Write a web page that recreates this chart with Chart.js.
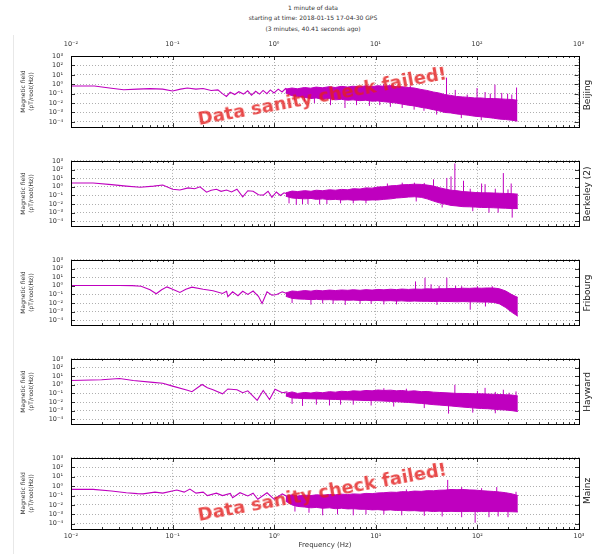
<!DOCTYPE html>
<html>
<head>
<meta charset="utf-8">
<script src="https://cdn.jsdelivr.net/npm/chart.js@4.4.0/dist/chart.umd.min.js"></script>
<style>
  body { margin: 0; background: #fff; width: 592px; height: 554px; position: relative; overflow: hidden; font-family: "DejaVu Sans", sans-serif; }
  canvas { position: absolute; left: 0; }
  .title { position: absolute; left: 163px; width: 300px; top: 3px; text-align: center; font-size: 6px; line-height: 10.3px; color: #333; }
  .station { position: absolute; width: 100px; text-align: center; font-size: 9px; line-height: 10px; color: #222; transform: rotate(-90deg); }
  .warn { position: absolute; white-space: nowrap; font: bold 18px "DejaVu Sans", sans-serif; line-height: 18px; color: rgba(228, 30, 30, 0.8); transform-origin: 0 15px; transform: rotate(-10.5deg); }
  .edge { position: absolute; left: 13px; top: 35px; width: 1px; height: 519px; background: #e8e8e8; }
</style>
</head>
<body>
<div class="edge"></div>
<div class="title">1 minute of data<br>starting at time: 2018-01-15 17-04-30 GPS<br>(3 minutes, 40.41 seconds ago)</div>

<script>
// axis ticks
const xTicks = [0.01, 0.1, 1, 10, 100, 1000];
const xTickLabels = ['10⁻²', '10⁻¹', '10⁰', '10¹', '10²', '10³'];
const yTicks = [1e-4, 1e-3, 1e-2, 1e-1, 1, 10, 100, 1000];
const yTickLabels = ['10⁻⁴', '10⁻³', '10⁻²', '10⁻¹', '10⁰', '10¹', '10²', '10³'];
const minorSteps = [2, 3, 4, 5, 6, 7, 8, 9];

const stations = ['Beijing', 'Berkeley (2)', 'Fribourg', 'Hayward', 'Mainz'];
const failedStations = ['Beijing', 'Mainz'];

// frequencies where the noisy part is read as an upper / lower edge
const bandFreq = [1.3, 1.5, 1.7, 2, 2.3, 2.6, 3, 3.5, 4, 4.6, 5.3, 6, 7, 8, 9.2, 10.5, 12, 14, 16, 18, 21, 24, 28, 32, 37, 42, 48, 55, 63, 72, 83, 95, 110, 125, 145, 165, 190, 220, 250];

// Beijing
const lowFreqBeijing = [0.01, 0.017, 0.025, 0.033, 0.045, 0.06, 0.08, 0.1, 0.12, 0.14, 0.17, 0.2, 0.24, 0.28, 0.31, 0.34, 0.37, 0.41, 0.45, 0.5, 0.55, 0.6, 0.66, 0.72, 0.78, 0.85, 0.92, 1.0, 1.1, 1.2, 1.3, 1.4];
const lowBeijing = [0.65, 0.65, 0.38, 0.26, 0.3, 0.34, 0.3, 0.19, 0.3, 0.4, 0.3, 0.35, 0.22, 0.25, 0.1, 0.05, 0.14, 0.08, 0.16, 0.09, 0.2, 0.07, 0.18, 0.09, 0.22, 0.1, 0.25, 0.12, 0.3, 0.15, 0.35, 0.2];
const bandHighBeijing = [0.3, 0.4, 0.33, 0.45, 0.38, 0.5, 0.42, 0.55, 0.45, 0.6, 0.5, 0.62, 0.52, 0.68, 0.55, 0.7, 0.6, 0.72, 0.55, 0.55, 0.45, 0.4, 0.28, 0.22, 0.15, 0.12, 0.08, 0.065, 0.05, 0.045, 0.04, 0.035, 0.035, 0.03, 0.03, 0.028, 0.026, 0.024, 0.02];
const bandLowBeijing = [0.12, 0.06, 0.05, 0.04, 0.03, 0.035, 0.025, 0.03, 0.022, 0.025, 0.02, 0.022, 0.018, 0.02, 0.016, 0.017, 0.014, 0.012, 0.01, 0.008, 0.006, 0.005, 0.0035, 0.0028, 0.002, 0.0015, 0.001, 0.0009, 0.0007, 0.0006, 0.0005, 0.0004, 0.00035, 0.0003, 0.00025, 0.0002, 0.00018, 0.00015, 0.00012];
const spikeFreqBeijing = [1.6, 2.0, 2.5, 3.6, 5, 6.5, 8.7, 11, 12, 14, 18.3, 22, 24, 30, 40, 50, 61, 70, 80, 100, 110, 120, 135, 150, 175, 200, 220, 245];
const spikeTopBeijing = [0.1, 0.1, 0.1, 0.1, 0.1, 0.1, 0.1, 0.1, 1.0, 0.1, 0.1, 0.7, 0.05, 0.05, 0.02, 5, 0.25, 0.01, 0.08, 0.4, 0.005, 0.15, 0.1, 0.9, 0.12, 0.1, 0.08, 0.45];
const spikeBottomBeijing = [0.02, 0.015, 0.01, 0.006, 0.003, 0.006, 0.005, 0.006, 0.1, 0.004, 0.003, 0.05, 0.002, 0.0015, 0.0006, 0.005, 0.005, 0.00025, 0.005, 0.002, 0.00015, 0.002, 0.002, 0.002, 0.001, 0.001, 0.001, 0.001];

// Berkeley (2)
const lowFreqBerkeley = [0.01, 0.0165, 0.025, 0.035, 0.048, 0.065, 0.08, 0.1, 0.118, 0.142, 0.165, 0.186, 0.216, 0.24, 0.27, 0.3, 0.34, 0.38, 0.43, 0.49, 0.55, 0.62, 0.7, 0.78, 0.87, 0.95, 1.05, 1.15, 1.25, 1.35];
const lowBerkeley = [2.75, 2.75, 1.8, 1.2, 0.88, 1.2, 1.6, 0.52, 0.42, 0.75, 0.6, 1.0, 0.24, 0.4, 0.52, 0.3, 0.42, 0.25, 0.52, 0.07, 0.35, 0.3, 0.12, 0.11, 0.3, 0.06, 0.25, 0.1, 0.2, 0.15];
const bandHighBerkeley = [0.2, 0.32, 0.28, 0.36, 0.3, 0.4, 0.35, 0.45, 0.4, 0.5, 0.45, 0.6, 0.55, 0.75, 0.7, 0.95, 1.0, 1.3, 1.4, 1.7, 1.8, 2.0, 1.9, 1.6, 1.2, 0.8, 0.55, 0.4, 0.35, 0.28, 0.25, 0.22, 0.2, 0.2, 0.19, 0.18, 0.17, 0.16, 0.14];
const bandLowBerkeley = [0.08, 0.05, 0.045, 0.04, 0.045, 0.035, 0.04, 0.032, 0.035, 0.03, 0.032, 0.028, 0.03, 0.028, 0.03, 0.03, 0.035, 0.04, 0.05, 0.055, 0.065, 0.07, 0.06, 0.04, 0.022, 0.014, 0.01, 0.007, 0.006, 0.005, 0.0048, 0.0045, 0.004, 0.004, 0.0037, 0.0035, 0.0033, 0.003, 0.003];
const spikeFreqBerkeley = [1.4, 1.65, 1.9, 2.15, 2.8, 3.3, 4.5, 6, 8, 13, 18.2, 24, 25, 30, 37, 45, 50, 55, 60, 73, 85, 90, 110, 119, 130, 150, 160, 180, 200, 215, 220];
const spikeTopBerkeley = [0.2, 0.2, 0.2, 0.2, 0.2, 0.2, 0.2, 0.3, 0.3, 2.4, 3, 3, 0.2, 2.8, 7.3, 0.1, 10.6, 16, 500, 5, 0.6, 0.02, 2.4, 2, 0.05, 0.6, 0.02, 39, 0.5, 2.4, 0.05];
const spikeBottomBerkeley = [0.012, 0.008, 0.01, 0.01, 0.009, 0.01, 0.012, 0.012, 0.012, 0.1, 0.1, 0.2, 0.02, 0.2, 0.05, 0.004, 0.03, 0.03, 0.02, 0.02, 0.02, 0.0015, 0.02, 0.02, 0.001, 0.02, 0.001, 0.02, 0.02, 0.02, 0.00027];

// Fribourg
const lowFreqFribourg = [0.01, 0.02, 0.03, 0.04, 0.049, 0.06, 0.069, 0.078, 0.088, 0.1, 0.118, 0.135, 0.155, 0.2, 0.25, 0.31, 0.34, 0.35, 0.39, 0.44, 0.49, 0.55, 0.62, 0.7, 0.76, 0.85, 0.95, 1.06, 1.2, 1.35];
const lowFribourg = [1.1, 1.1, 1.1, 1.05, 0.9, 0.35, 0.12, 0.35, 0.75, 0.4, 0.17, 0.4, 0.7, 0.4, 0.27, 0.13, 0.23, 0.054, 0.2, 0.07, 0.23, 0.1, 0.25, 0.06, 0.009, 0.2, 0.08, 0.1, 0.2, 0.12];
const bandHighFribourg = [0.15, 0.25, 0.22, 0.28, 0.24, 0.3, 0.26, 0.32, 0.28, 0.33, 0.3, 0.35, 0.3, 0.36, 0.32, 0.38, 0.34, 0.4, 0.36, 0.42, 0.38, 0.42, 0.4, 0.45, 0.42, 0.46, 0.45, 0.5, 0.47, 0.52, 0.5, 0.55, 0.52, 0.56, 0.55, 0.45, 0.25, 0.09, 0.045];
const bandLowFribourg = [0.06, 0.035, 0.03, 0.028, 0.025, 0.027, 0.024, 0.025, 0.022, 0.023, 0.021, 0.022, 0.02, 0.021, 0.019, 0.02, 0.018, 0.019, 0.017, 0.018, 0.016, 0.017, 0.016, 0.016, 0.015, 0.016, 0.015, 0.015, 0.014, 0.015, 0.014, 0.014, 0.013, 0.013, 0.012, 0.008, 0.003, 0.0008, 0.0003];
const spikeFreqFribourg = [1.5, 2.3, 3, 3.8, 5, 7, 9, 12, 16, 24.6, 30.5, 35, 40, 42, 50, 61, 70, 85, 100, 120, 140];
const spikeTopFribourg = [0.15, 0.15, 0.15, 0.15, 0.15, 0.15, 0.15, 0.15, 0.15, 3.2, 8.6, 1.5, 0.1, 1.0, 8.6, 1.0, 0.9, 0.1, 0.9, 0.1, 0.9];
const spikeBottomFribourg = [0.01, 0.0065, 0.009, 0.008, 0.006, 0.008, 0.008, 0.007, 0.007, 0.05, 0.05, 0.05, 0.006, 0.05, 0.05, 0.05, 0.05, 0.0017, 0.05, 0.004, 0.05];

// Hayward
const lowFreqHayward = [0.01, 0.02, 0.03, 0.041, 0.064, 0.08, 0.1, 0.14, 0.155, 0.195, 0.22, 0.25, 0.31, 0.35, 0.43, 0.49, 0.55, 0.68, 0.78, 0.9, 1.02, 1.2, 1.35];
const lowHayward = [3.2, 3.8, 5.4, 3.2, 1.9, 1.5, 0.7, 0.23, 0.16, 1.1, 0.45, 0.27, 0.09, 0.33, 0.27, 0.12, 0.2, 0.016, 0.22, 0.02, 0.3, 0.12, 0.15];
const bandHighHayward = [0.1, 0.15, 0.1, 0.13, 0.11, 0.14, 0.12, 0.16, 0.14, 0.18, 0.16, 0.2, 0.18, 0.22, 0.2, 0.25, 0.22, 0.24, 0.2, 0.22, 0.18, 0.2, 0.16, 0.17, 0.14, 0.13, 0.12, 0.11, 0.1, 0.1, 0.095, 0.09, 0.09, 0.085, 0.08, 0.075, 0.07, 0.065, 0.05];
const bandLowHayward = [0.05, 0.03, 0.028, 0.025, 0.024, 0.023, 0.022, 0.021, 0.02, 0.019, 0.018, 0.017, 0.016, 0.015, 0.015, 0.014, 0.013, 0.012, 0.011, 0.01, 0.009, 0.008, 0.007, 0.006, 0.005, 0.0045, 0.004, 0.0035, 0.003, 0.0026, 0.0023, 0.002, 0.0018, 0.0017, 0.0015, 0.0013, 0.0012, 0.001, 0.0008];
const spikeFreqHayward = [1.5, 1.9, 2.6, 3.5, 4.5, 6, 9, 12, 15, 20, 30, 52, 60, 90, 100, 119, 150, 180, 205, 240];
const spikeTopHayward = [0.08, 0.08, 0.08, 0.08, 0.08, 0.08, 0.08, 0.4, 0.06, 0.35, 0.05, 0.02, 1.0, 0.02, 0.2, 0.44, 0.15, 0.27, 0.12, 0.17];
const spikeBottomHayward = [0.006, 0.0036, 0.005, 0.004, 0.005, 0.005, 0.004, 0.03, 0.003, 0.03, 0.002, 0.00046, 0.01, 0.0006, 0.005, 0.008, 0.0005, 0.005, 0.005, 0.005];

// Mainz
const lowFreqMainz = [0.01, 0.0165, 0.025, 0.035, 0.045, 0.051, 0.067, 0.08, 0.11, 0.13, 0.148, 0.17, 0.2, 0.22, 0.27, 0.31, 0.37, 0.39, 0.46, 0.55, 0.62, 0.69, 0.85, 1.0, 1.2, 1.35];
const lowMainz = [0.45, 0.45, 0.3, 0.2, 0.16, 0.15, 0.23, 0.18, 0.39, 0.23, 0.49, 0.18, 0.23, 0.1, 0.18, 0.1, 0.17, 0.058, 0.2, 0.09, 0.18, 0.04, 0.2, 0.04, 0.15, 0.08];
const bandHighMainz = [0.08, 0.12, 0.09, 0.11, 0.1, 0.12, 0.11, 0.13, 0.12, 0.14, 0.13, 0.15, 0.14, 0.17, 0.16, 0.19, 0.2, 0.23, 0.22, 0.26, 0.25, 0.3, 0.28, 0.33, 0.32, 0.37, 0.38, 0.44, 0.42, 0.44, 0.4, 0.38, 0.33, 0.3, 0.27, 0.24, 0.2, 0.15, 0.1];
const bandLowMainz = [0.025, 0.01, 0.007, 0.006, 0.005, 0.0055, 0.0045, 0.005, 0.004, 0.0045, 0.0038, 0.004, 0.0035, 0.0035, 0.003, 0.0032, 0.0028, 0.003, 0.0026, 0.0027, 0.0024, 0.0025, 0.0022, 0.0023, 0.002, 0.0022, 0.002, 0.0021, 0.002, 0.002, 0.002, 0.002, 0.002, 0.002, 0.002, 0.002, 0.002, 0.0019, 0.0018];
const spikeFreqMainz = [1.6, 2.2, 3, 4.2, 6, 8, 12, 18, 20, 30, 45, 51, 70, 95, 110, 130, 155, 160, 200, 240];
const spikeTopMainz = [0.05, 0.05, 0.05, 0.05, 0.05, 0.05, 0.05, 0.1, 0.45, 0.1, 0.1, 4.6, 0.8, 0.1, 0.6, 0.1, 0.8, 0.1, 0.1, 0.25];
const spikeBottomMainz = [0.002, 0.0015, 0.0008, 0.001, 0.0008, 0.001, 0.001, 0.0008, 0.02, 0.0007, 0.0006, 0.02, 0.0005, 0.00013, 0.02, 0.0005, 0.02, 0.0006, 0.0005, 0.02];

const series = [
  { lowF: lowFreqBeijing, low: lowBeijing, hi: bandHighBeijing, lo: bandLowBeijing, sf: spikeFreqBeijing, st: spikeTopBeijing, sb: spikeBottomBeijing },
  { lowF: lowFreqBerkeley, low: lowBerkeley, hi: bandHighBerkeley, lo: bandLowBerkeley, sf: spikeFreqBerkeley, st: spikeTopBerkeley, sb: spikeBottomBerkeley },
  { lowF: lowFreqFribourg, low: lowFribourg, hi: bandHighFribourg, lo: bandLowFribourg, sf: spikeFreqFribourg, st: spikeTopFribourg, sb: spikeBottomFribourg },
  { lowF: lowFreqHayward, low: lowHayward, hi: bandHighHayward, lo: bandLowHayward, sf: spikeFreqHayward, st: spikeTopHayward, sb: spikeBottomHayward },
  { lowF: lowFreqMainz, low: lowMainz, hi: bandHighMainz, lo: bandLowMainz, sf: spikeFreqMainz, st: spikeTopMainz, sb: spikeBottomMainz }
];

const purple = '#bf00bf';
const panelTops = [56, 155, 254, 353, 452];
const panelH = 77;

function toPoints(xs, ys) {
  return xs.map((x, i) => ({ x: x, y: ys[i] }));
}

// each spike: bottom -> top, then a gap
function spikePoints(fs, tops, bottoms) {
  const pts = [];
  fs.forEach((f, i) => {
    pts.push({ x: f, y: bottoms[i] }, { x: f, y: tops[i] }, { x: f, y: null });
  });
  return pts;
}

// inward ticks and the black box round each plot
const framePlugin = {
  id: 'frame',
  afterDraw(chart) {
    const ctx = chart.ctx;
    const a = chart.chartArea;
    const xs = chart.scales.x, ys = chart.scales.y;
    ctx.save();
    ctx.strokeStyle = '#000';
    ctx.lineWidth = 0.8;
    ctx.beginPath();
    xTicks.forEach(d => {
      [1].concat(minorSteps).forEach(m => {
        const v = d * m;
        if (v > xs.max * 1.0001) return;
        const px = Math.round(xs.getPixelForValue(v)) + 0.5;
        const len = m === 1 ? 4 : 2;
        ctx.moveTo(px, a.top); ctx.lineTo(px, a.top + len);
        ctx.moveTo(px, a.bottom); ctx.lineTo(px, a.bottom - len);
      });
    });
    yTicks.forEach(v => {
      const py = Math.round(ys.getPixelForValue(v)) + 0.5;
      ctx.moveTo(a.left, py); ctx.lineTo(a.left + 4, py);
      ctx.moveTo(a.right, py); ctx.lineTo(a.right - 4, py);
    });
    ctx.stroke();
    ctx.lineWidth = 1;
    ctx.strokeRect(Math.round(a.left) + 0.5, Math.round(a.top) + 0.5, Math.round(a.right - a.left), Math.round(a.bottom - a.top));
    ctx.restore();
  }
};

function makePanel(idx) {
  const s = series[idx];
  const isFirst = idx === 0, isLast = idx === stations.length - 1;
  const padTop = isFirst ? 30 : 6;
  const padBottom = isLast ? 23 : 6;
  const top = panelTops[idx];

  const canvas = document.createElement('canvas');
  canvas.width = 592;
  canvas.height = panelH + padTop + padBottom;
  canvas.style.top = (top - padTop) + 'px';
  document.body.appendChild(canvas);

  // station name on the right
  const lab = document.createElement('div');
  lab.className = 'station';
  lab.textContent = stations[idx];
  lab.style.left = (587 - 50) + 'px';
  lab.style.top = (top + panelH / 2 - 5) + 'px';
  document.body.appendChild(lab);

  new Chart(canvas.getContext('2d'), {
    type: 'line',
    data: {
      datasets: [
        { data: toPoints(bandFreq, s.lo), borderColor: purple, borderWidth: 1, pointRadius: 0, fill: false },
        { data: toPoints(bandFreq, s.hi), borderColor: purple, backgroundColor: purple, borderWidth: 1, pointRadius: 0, fill: '-1' },
        { data: spikePoints(s.sf, s.st, s.sb), borderColor: purple, borderWidth: 1, pointRadius: 0, fill: false, spanGaps: false },
        { data: toPoints(s.lowF, s.low), borderColor: purple, borderWidth: 1.1, pointRadius: 0, fill: false }
      ]
    },
    options: {
      responsive: false,
      animation: false,
      devicePixelRatio: 1,
      events: [],
      layout: { padding: { left: 0, right: 13, top: isFirst ? 0 : padTop, bottom: isFirst ? padBottom : 0 } },
      plugins: { legend: { display: false }, tooltip: { enabled: false } },
      scales: {
        x: {
          type: 'logarithmic',
          position: isFirst ? 'top' : 'bottom',
          min: 0.01,
          max: 1000,
          afterBuildTicks: scale => { scale.ticks = xTicks.map(v => ({ value: v })); },
          afterFit: scale => { scale.height = isFirst ? padTop : padBottom; },
          ticks: {
            display: isFirst || isLast,
            autoSkip: false,
            maxRotation: 0,
            padding: isFirst ? 8 : 3,
            color: '#333',
            font: { family: 'DejaVu Sans', size: 6.5 },
            callback: (v, i) => xTickLabels[i]
          },
          grid: { color: '#9a9a9a', lineWidth: 0.8, drawTicks: false },
          border: { display: false, dash: [1, 2] },
          title: {
            display: isLast,
            text: 'Frequency (Hz)',
            color: '#333',
            font: { family: 'DejaVu Sans', size: 7 },
            padding: { top: 0, bottom: 3 }
          }
        },
        y: {
          type: 'logarithmic',
          min: 2.8e-5,
          max: 1000,
          afterBuildTicks: scale => { scale.ticks = yTicks.map(v => ({ value: v })); },
          afterFit: scale => { scale.width = 71; },
          ticks: {
            autoSkip: false,
            padding: 8,
            color: '#333',
            font: { family: 'DejaVu Sans', size: 6.5 },
            callback: (v, i) => yTickLabels[i]
          },
          grid: { color: '#9a9a9a', lineWidth: 0.8, drawTicks: false },
          border: { display: false, dash: [1, 2] },
          title: {
            display: true,
            text: ['Magnetic field', '(pT/root(Hz))'],
            color: '#333',
            font: { family: 'DejaVu Sans', size: 6, lineHeight: 1.4 },
            padding: { top: 19, bottom: 0 }
          }
        }
      }
    },
    plugins: [framePlugin]
  });

  // red warning for stations whose data failed the sanity check
  if (failedStations.includes(stations[idx])) {
    const w = document.createElement('div');
    w.className = 'warn';
    w.textContent = 'Data sanity check failed!';
    w.style.left = '199px';
    w.style.top = (top + 69 - 15) + 'px';
    document.body.appendChild(w);
  }
}

stations.forEach((name, i) => makePanel(i));
</script>
</body>
</html>
